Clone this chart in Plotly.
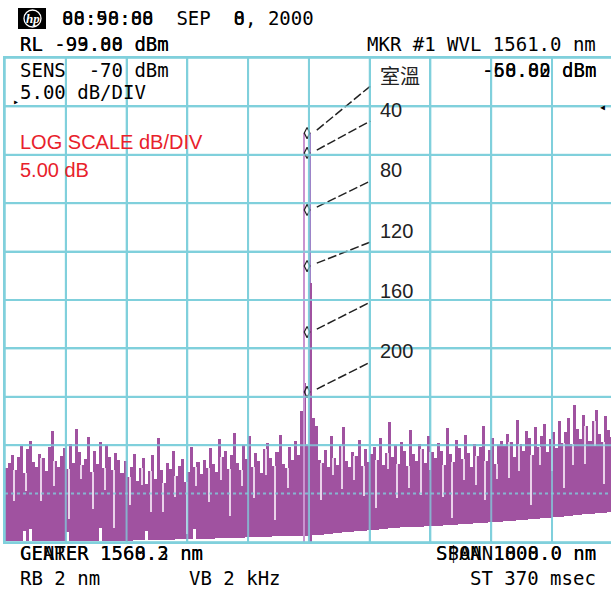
import plotly.graph_objects as go

# ---------------- data ----------------
# wavelength grid of the displayed trace (nm)
START_NM = 1555.3
STEP_NM = 0.05

noise_top_dbm = [
    -62.4, -61.8, -61.0, -62.6, -61.2, -60.1, -62.9, -60.4, -59.6, -61.7, -62.2, -60.9, -61.3, -62.7, -60.2, -58.5, -61.6, -62.3,
    -61.1, -60.3, -62.5, -59.9, -61.8, -58.3, -60.7, -62.0, -61.4, -59.2, -62.8, -60.6, -61.9, -59.7, -62.4, -60.0, -61.2, -62.6, -60.8, -61.5,
    -62.9, -61.6, -63.3, -62.2, -60.9, -63.7, -62.4, -61.3, -64.0, -62.7, -61.0, -63.5, -59.3, -62.6, -63.9, -61.8, -62.5, -60.6, -63.2, -62.1, -61.4, -63.8, -62.8, -60.2, -62.3, -61.7, -63.0,
    -61.5, -62.4, -60.3, -61.9, -62.8, -59.4, -61.2, -60.6, -62.5, -61.0, -58.7, -61.8, -62.6, -60.0, -61.4, -59.1, -62.2, -60.8, -61.6, -62.9, -60.4, -59.8, -61.3, -62.1, -60.7, -58.9, -61.9, -62.4, -60.2, -61.5, -59.6, -61.0,
    -56.5, -53.6, -60.0, -61.0, -57.2, -58.0, -61.5,
    -61.8, -60.5, -62.2, -59.0, -61.3, -62.0, -60.1, -58.1, -61.6, -62.3, -60.7, -61.1, -59.5, -62.1, -60.4, -61.7, -60.9,
    -60.2, -61.5, -59.3, -62.0, -60.8, -57.6, -61.2, -60.0, -61.9, -59.7, -60.6, -62.1, -58.4, -60.9, -61.6, -59.9, -60.4, -61.8, -59.1, -60.7,
    -61.3, -59.8, -60.6, -62.0, -58.2, -60.9, -61.7, -59.5, -60.3, -61.4, -58.9, -60.8, -62.2, -59.9, -61.1, -60.2, -58.0, -61.6, -60.5, -59.3, -61.9, -60.0, -59.6,
    -60.1, -58.8, -59.7, -61.2, -57.4, -59.9, -60.6, -58.5, -59.3, -61.0, -58.1, -60.2, -59.0, -57.8, -60.7, -59.4, -58.6, -60.3, -57.5, -59.8,
    -58.6, -57.2, -59.9, -55.8, -58.3, -59.4, -56.9, -58.0, -59.6, -57.5, -56.4, -58.8, -59.7, -57.0, -58.4, -59.2,
]

noise_bottom_dbm = [
    -69.9, -69.9, -69.9, -69.9, -69.9, -69.9, -68.9, -69.9, -68.7, -69.9, -69.9, -69.9, -69.9, -69.9, -69.9, -69.9, -69.9, -69.9,
    -69.9, -69.9, -69.0, -69.9, -69.9, -69.9, -69.9, -69.9, -69.9, -69.9, -69.9, -69.9, -69.9, -68.6, -69.9, -69.9, -69.9, -69.9, -69.9, -69.9,
    -69.9, -69.9, -69.9, -69.9, -69.8, -69.8, -69.8, -69.8, -68.9, -69.8, -69.8, -69.8, -69.8, -69.8, -69.8, -69.8, -69.8, -69.8, -69.7, -69.7, -69.7, -69.7, -69.7, -69.7, -68.7, -69.7, -69.7,
    -69.7, -69.7, -69.7, -69.7, -69.6, -69.6, -69.6, -69.6, -69.6, -69.6, -69.6, -69.6, -69.6, -69.6, -69.5, -69.5, -69.5, -69.5, -69.5, -69.5, -69.5, -69.5, -69.5, -69.4, -69.4, -69.4, -69.4, -69.4, -69.4, -69.4, -69.4, -69.4,
    -69.4, -69.4, -69.4, -69.3, -69.3, -69.3, -69.3,
    -69.3, -69.2, -69.2, -69.2, -69.1, -69.1, -69.1, -69.0, -69.0, -69.0, -69.0, -68.9, -68.9, -68.9, -68.9, -68.8, -68.8,
    -68.8, -68.8, -68.7, -68.7, -68.7, -68.6, -68.6, -68.6, -68.6, -68.5, -68.5, -68.5, -68.5, -68.4, -68.4, -68.4, -68.4, -68.3, -68.3, -68.3,
    -68.3, -68.3, -68.3, -68.2, -68.2, -68.2, -68.2, -68.2, -68.1, -68.1, -68.1, -68.1, -68.1, -68.0, -68.0, -68.0, -68.0, -68.0, -67.9, -67.9, -67.9, -67.9, -67.9,
    -67.8, -67.8, -67.8, -67.8, -67.7, -67.7, -67.7, -67.7, -67.6, -67.6, -67.6, -67.6, -67.5, -67.5, -67.5, -67.5, -67.4, -67.4, -67.4, -67.4,
    -67.3, -67.3, -67.3, -67.2, -67.2, -67.2, -67.1, -67.1, -67.1, -67.1, -67.0, -67.0, -67.0, -67.0, -66.9, -66.9,
]

# light vertical streaks in the trace: sample boundary index and depth below the local top (dB)
streak_index = [3, 7, 12, 16, 21, 25, 29, 33, 36, 41, 45, 48, 52, 56, 60, 63, 67, 71, 74, 78, 82, 86, 89, 93,
                 104, 108, 111, 115, 118, 122, 126, 129, 133, 137, 140, 144, 147, 151, 155, 158, 162, 166,
                 169, 173, 176, 180, 184, 187, 191, 194, 197]
streak_depth_db = [3.2, 1.8, 4.5, 2.6, 5.1, 1.5, 3.8, 2.2, 6.0, 2.9, 1.7, 4.2, 3.0, 2.1, 5.4, 1.9, 3.5, 2.4, 4.8, 1.6,
                   3.3, 2.7, 5.6, 2.0, 3.9, 1.8, 4.4, 2.5, 3.1, 5.0, 1.7, 3.6, 2.3, 4.7, 1.9, 3.4, 5.8, 2.2, 3.0,
                   4.1, 1.6, 3.7, 2.8, 5.2, 1.8, 3.3, 4.6, 2.1, 3.9, 2.6, 4.3]

# laser peak lines (nm, dBm)
peak_nm = [1560.22, 1560.31, 1560.34]
peak_top_dbm = [-27.75, -27.75, -43.2]
peak_colors = ["#c993d0", "#9c84c8", "#a052a0"]

# temperature markers along the peak
marker_nm = 1560.27
marker_dbm = [-27.75, -29.81, -35.70, -41.49, -48.31, -54.50]
label_text = ["室溫", "40", "80", "120", "160", "200"]
label_dbm = [-21.76, -25.37, -31.57, -37.87, -44.07, -50.27]
label_nm = 1561.44
leader_end_nm = 1561.31
leader_start_nm = 1560.43

# axes
X_DIV_NM = 1.0
Y_TOP = -20
Y_BOTTOM = -70
Y_DIV = 5

# ---------------- figure ----------------
W, H = 611, 590
ML, MR, MT, MB = 5, 0, 58, 48
PW, PH = W - ML - MR, H - MT - MB
PX_PER_NM = 60.78
x_end = START_NM + PW / PX_PER_NM

purple = "#a052a0"
streak_color = "#ead2ea"
grid = "#80d0dc"

x_nm = [START_NM + STEP_NM * (i + 0.5) for i in range(len(noise_top_dbm))]
heights = [t - b for t, b in zip(noise_top_dbm, noise_bottom_dbm)]

fig = go.Figure()
fig.add_trace(go.Bar(x=x_nm, y=heights, base=noise_bottom_dbm, width=STEP_NM,
                     marker=dict(color=purple, line=dict(width=0)), hoverinfo="skip"))

# streaks
s_x, s_base, s_h = [], [], []
for idx, d in zip(streak_index, streak_depth_db):
    top = min(noise_top_dbm[idx - 1], noise_top_dbm[idx])
    s_x.append(START_NM + STEP_NM * idx)
    s_base.append(top - d)
    s_h.append(d)
fig.add_trace(go.Bar(x=s_x, y=s_h, base=s_base, width=0.018,
                     marker=dict(color=streak_color, line=dict(width=0)), hoverinfo="skip"))

for nm, top, c in zip(peak_nm, peak_top_dbm, peak_colors):
    fig.add_trace(go.Bar(x=[nm], y=[top - Y_BOTTOM], base=[Y_BOTTOM], width=0.033,
                         marker=dict(color=c, line=dict(width=0)), hoverinfo="skip"))

# leader lines
lx, ly = [], []
for m, l in zip(marker_dbm, label_dbm):
    lx += [leader_start_nm, leader_end_nm, None]
    ly += [m + 0.3, l - 1.15, None]
fig.add_trace(go.Scatter(x=lx, y=ly, mode="lines",
                         line=dict(color="#222222", width=1.5, dash="9px,3px"), hoverinfo="skip"))
fig.add_trace(go.Scatter(x=[marker_nm] * len(marker_dbm), y=marker_dbm, mode="markers",
                         marker=dict(symbol="diamond-tall-open", size=8, color="#222222",
                                     line=dict(width=1.2, color="#222222")), hoverinfo="skip"))

for t, y in zip(label_text, label_dbm):
    fam = "Noto Sans CJK TC" if t == "室溫" else "Liberation Sans"
    fig.add_annotation(x=label_nm, y=y, text=t, showarrow=False, xanchor="left", yanchor="middle",
                       font=dict(family=fam, size=20, color="#222222"))

# grid overlay above the trace (the display grid is drawn over the trace)
shapes = []
k = 0
while START_NM + k * X_DIV_NM < x_end:
    xv = START_NM + k * X_DIV_NM
    shapes.append(dict(type="line", xref="x", yref="paper", x0=xv, x1=xv, y0=0, y1=1,
                       line=dict(color=grid, width=2), layer="above", opacity=0.75))
    k += 1
for v in range(Y_BOTTOM, Y_TOP + 1, Y_DIV):
    shapes.append(dict(type="line", xref="paper", yref="y", x0=0, x1=1, y0=v, y1=v,
                       line=dict(color=grid, width=2, dash="dot" if v == -65 else "solid"),
                       layer="above", opacity=0.8))


def px(x, y):
    return (x - ML) / PW, (H - MB - y) / PH


# hp logo
x0, y0 = px(18, 29)
x1, y1 = px(46, 8)
shapes.append(dict(type="rect", xref="paper", yref="paper", x0=x0, y0=y0, x1=x1, y1=y1,
                   fillcolor="black", line=dict(width=0)))
x0, y0 = px(24, 27)
x1, y1 = px(41, 10)
shapes.append(dict(type="circle", xref="paper", yref="paper", x0=x0, y0=y0, x1=x1, y1=y1,
                   line=dict(color="white", width=1.3)))

mono = "DejaVu Sans Mono"
NB = "\u00a0"


def txt(x, y, s, anchor="left", size=19, color="black", family=mono, **kw):
    xp, yp = px(x, y)
    fig.add_annotation(xref="paper", yref="paper", x=xp, y=yp, text=s.replace(" ", NB),
                       showarrow=False, xanchor=anchor, yanchor="middle",
                       font=dict(family=family, size=size, color=color), **kw)


xp, yp = px(32.5, 18.5)
fig.add_annotation(xref="paper", yref="paper", x=xp, y=yp, text="<b><i>hp</i></b>", showarrow=False,
                   xanchor="center", yanchor="middle",
                   font=dict(family="Liberation Serif", size=13, color="white"))

txt(60, 18, "00:50:00  SEP  0, 2000")
txt(60, 18, "88:98:88       8")
txt(18, 44, "RL -93.00 dBm")
txt(18, 44, "RL -99.88 dBm")
txt(598, 44, "MKR #1 WVL 1561.0 nm", anchor="right")
txt(18, 70, "SENS  -70 dBm")
txt(18, 92, "5.00 dB/DIV")
txt(598, 70, "-60.00 dBm", anchor="right")
txt(598, 70, "-58.82 dBm", anchor="right")
txt(18, 553, "CENTER 1560.3 nm")
txt(18, 553, "GEARER 1568.2 nm")
txt(18, 578, "RB 2 nm")
txt(187, 578, "VB 2 kHz")
txt(598, 553, "SPAN 1000.0 nm", anchor="right")
txt(598, 553, "S$0AN1808.0 nm", anchor="right")
txt(598, 578, "ST 370 msec", anchor="right")
txt(11, 101, "▸", size=10)
txt(608, 107, "◂", anchor="right", size=12)

txt(18, 142, "LOG SCALE dB/DIV", size=20, color="#e8212b", family="Liberation Sans")
txt(18, 170, "5.00 dB", size=20, color="#e8212b", family="Liberation Sans")

fig.update_layout(
    width=W, height=H, autosize=False,
    margin=dict(l=ML, r=MR, t=MT, b=MB, pad=0),
    paper_bgcolor="white", plot_bgcolor="white",
    showlegend=False, barmode="overlay", bargap=0,
    shapes=shapes,
    xaxis=dict(range=[START_NM, x_end], tick0=START_NM, dtick=X_DIV_NM, showgrid=True,
               gridcolor=grid, gridwidth=2, showticklabels=False, ticks="", zeroline=False,
               showline=True, linecolor=grid, linewidth=2, mirror=True, fixedrange=True),
    yaxis=dict(range=[Y_BOTTOM, Y_TOP], tick0=Y_BOTTOM, dtick=Y_DIV, showgrid=True,
               gridcolor=grid, gridwidth=2, showticklabels=False, ticks="", zeroline=False,
               showline=True, linecolor=grid, linewidth=2, mirror=False, fixedrange=True),
)

fig.write_html("out.html", config={"displayModeBar": False},
               post_script="document.body.style.margin='0';document.body.style.overflow='hidden';")
